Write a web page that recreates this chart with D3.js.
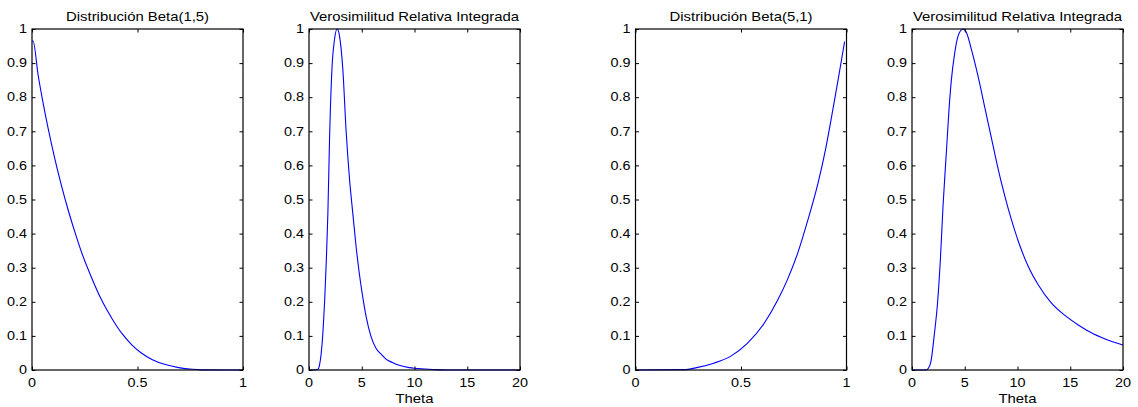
<!DOCTYPE html>
<html>
<head>
<meta charset="utf-8">
<script src="https://cdn.jsdelivr.net/npm/d3@7"></script>
<style>
  html, body { margin: 0; padding: 0; background: #fff; overflow: hidden; }
  svg { display: block; font-family: "Liberation Sans", Arial, Helvetica, sans-serif; }
</style>
</head>
<body>
<svg id="chart"></svg>
<script>
// Values
const beta15X = [0, 0.005, 0.029, 0.052, 0.076, 0.108, 0.14, 0.171, 0.203, 0.235, 0.283, 0.33, 0.378, 0.425, 0.473, 0.52, 0.568, 0.632, 0.695, 0.76, 0.8, 0.9, 1];
const beta15Y = [0.965, 0.965, 0.865, 0.785, 0.71, 0.62, 0.54, 0.47, 0.405, 0.345, 0.27, 0.205, 0.152, 0.108, 0.074, 0.049, 0.031, 0.016, 0.007, 0.002, 0.0005, 0, 0];

const vero1Theta = [0, 0.5, 0.85, 1.0, 1.16, 1.32, 1.48, 1.64, 1.79, 1.95, 2.17, 2.42, 2.67, 2.89, 3.21, 3.52, 3.84, 4.15, 4.47, 4.94, 5.09, 5.41, 5.88, 6.35, 6.82, 7.3, 7.9, 8.55, 9.5, 10, 11, 12, 13, 20];
const vero1L = [0, 0, 0.002, 0.015, 0.05, 0.11, 0.2, 0.32, 0.46, 0.68, 0.88, 0.97, 1.0, 0.98, 0.88, 0.70, 0.56, 0.46, 0.36, 0.245, 0.215, 0.157, 0.098, 0.064, 0.047, 0.032, 0.022, 0.014, 0.007, 0.005, 0.003, 0.001, 0, 0];

const beta51X = [0, 0.228, 0.29, 0.371, 0.45, 0.53, 0.61, 0.674, 0.72, 0.77, 0.817, 0.865, 0.9, 0.93, 0.96, 0.991];
const beta51Y = [0, 0.001, 0.007, 0.02, 0.04, 0.078, 0.137, 0.205, 0.265, 0.345, 0.44, 0.548, 0.645, 0.745, 0.85, 0.963];

const vero2Theta = [0, 1.36, 1.55, 1.8, 2.1, 2.43, 2.7, 2.94, 3.26, 3.5, 3.73, 4.05, 4.37, 4.84, 5.16, 5.63, 6.27, 6.9, 7.53, 8.16, 8.8, 9.43, 10.22, 11.0, 11.96, 13.2, 14.5, 15.76, 17.0, 18.3, 20];
const vero2L = [0, 0, 0.005, 0.025, 0.10, 0.20, 0.33, 0.48, 0.64, 0.76, 0.85, 0.93, 0.98, 1.0, 0.99, 0.94, 0.86, 0.77, 0.68, 0.59, 0.51, 0.44, 0.365, 0.305, 0.25, 0.197, 0.16, 0.132, 0.109, 0.091, 0.073];

const yTicks = [0, 0.1, 0.2, 0.3, 0.4, 0.5, 0.6, 0.7, 0.8, 0.9, 1];
const xTicksUnit = [0, 0.5, 1];
const xTicksTheta = [0, 5, 10, 15, 20];

const titles = ["Distribución Beta(1,5)", "Verosimilitud Relativa Integrada", "Distribución Beta(5,1)", "Verosimilitud Relativa Integrada"];
const xLabels = ["", "Theta", "", "Theta"];

const width = 1138, height = 407;
const plotTop = 29, innerHeight = 341, innerWidth = 211;
const plotLefts = [32, 309, 635.5, 912];
const stretch = 1.2; // text in the reference is a bit wider than tall
const tick = 3.5;

const panels = [
    { x: beta15X, y: beta15Y, xDomain: [0, 1], xTicks: xTicksUnit },
    { x: vero1Theta, y: vero1L, xDomain: [0, 20], xTicks: xTicksTheta },
    { x: beta51X, y: beta51Y, xDomain: [0, 1], xTicks: xTicksUnit },
    { x: vero2Theta, y: vero2L, xDomain: [0, 20], xTicks: xTicksTheta }
];

const svg = d3.select("#chart")
    .attr("width", width)
    .attr("height", height);

svg.append("rect").attr("width", width).attr("height", height).attr("fill", "#fff");

panels.forEach((p, i) => {
    const g = svg.append("g")
        .attr("transform", `translate(${plotLefts[i]},${plotTop})`);

    const xScale = d3.scaleLinear().domain(p.xDomain).range([0, innerWidth]);
    const yScale = d3.scaleLinear().domain([0, 1]).range([innerHeight, 0]);

    // Curve
    const line = d3.line()
        .x(d => xScale(d[0]))
        .y(d => yScale(d[1]))
        .curve(d3.curveMonotoneX);
    g.append("path")
        .datum(d3.zip(p.x, p.y))
        .attr("d", line)
        .attr("fill", "none")
        .attr("stroke", "#0000ff")
        .attr("stroke-width", 1.1);

    // Tick marks pointing inward on all four sides, MATLAB style
    const axes = [
        [d3.axisLeft(yScale).tickValues(yTicks), null],
        [d3.axisRight(yScale).tickValues(yTicks), `translate(${innerWidth},0)`],
        [d3.axisBottom(xScale).tickValues(p.xTicks), `translate(0,${innerHeight})`],
        [d3.axisTop(xScale).tickValues(p.xTicks), null]
    ];
    axes.forEach(([axis, tr]) => {
        const a = g.append("g").attr("transform", tr)
            .call(axis.tickFormat("").tickSizeInner(-tick).tickSizeOuter(0));
        a.select(".domain").remove();
        a.selectAll("line").attr("stroke", "#000");
        a.selectAll("text").remove();
    });

    // Tick labels
    g.append("g")
        .selectAll("text")
        .data(yTicks)
        .join("text")
        .attr("transform", d => `translate(-5,${yScale(d) + 4.2}) scale(${stretch},1)`)
        .attr("text-anchor", "end")
        .style("font-size", "12px")
        .text(d => String(d));

    g.append("g")
        .selectAll("text")
        .data(p.xTicks)
        .join("text")
        .attr("transform", d => `translate(${xScale(d)},${innerHeight + 16.5}) scale(${stretch},1)`)
        .attr("text-anchor", "middle")
        .style("font-size", "12px")
        .text(d => String(d));

    // Box
    g.append("rect")
        .attr("width", innerWidth)
        .attr("height", innerHeight)
        .attr("fill", "none")
        .attr("stroke", "#000")
        .attr("stroke-width", 1.2);

    // Title
    g.append("text")
        .attr("transform", `translate(${innerWidth / 2},${20.5 - plotTop}) scale(${stretch},1)`)
        .attr("text-anchor", "middle")
        .style("font-size", "12.4px")
        .text(titles[i]);

    // x label
    if (xLabels[i]) {
        g.append("text")
            .attr("transform", `translate(${innerWidth / 2},${402.5 - plotTop}) scale(${stretch},1)`)
            .attr("text-anchor", "middle")
            .style("font-size", "12.4px")
            .text(xLabels[i]);
    }
});
</script>
</body>
</html>
